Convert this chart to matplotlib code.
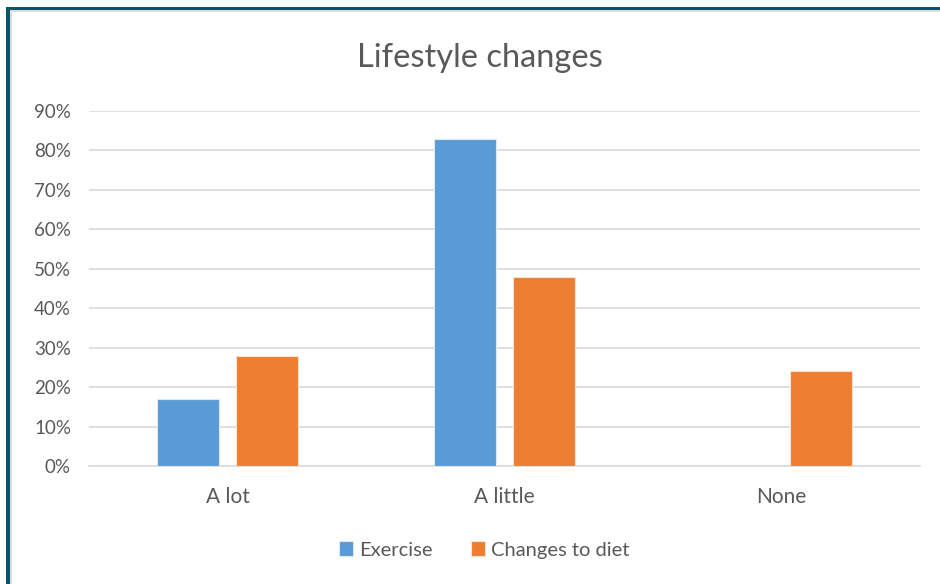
import matplotlib
matplotlib.use("Agg")
import matplotlib.pyplot as plt
from matplotlib.patches import Rectangle
from matplotlib.ticker import FuncFormatter, MultipleLocator
import numpy as np

categories = ["A lot", "A little", "None"]
exercise = [17, 83, 0]
diet = [28, 48, 24]
series_names = ["Exercise", "Changes to diet"]
colors = ["#5B9BD5", "#ED7D31"]
title = "Lifestyle changes"

plt.rcParams['font.family'] = ['Lato', 'DejaVu Sans']
W, H = 940, 584
fig = plt.figure(figsize=(W/100, H/100), dpi=100)

# frame: teal border left/top with light gray inner line
fig.patches.append(Rectangle((0, 0), 1, 1, transform=fig.transFigure, facecolor="white", edgecolor="none", zorder=-10))
fig.patches.append(Rectangle((6/W, 0), 4/W, 1 - 7/H, transform=fig.transFigure, facecolor="#0B5369", edgecolor="none", zorder=5))
fig.patches.append(Rectangle((6/W, 1 - 10/H), 1, 3/H, transform=fig.transFigure, facecolor="#0B5369", edgecolor="none", zorder=5))
fig.patches.append(Rectangle((10/W, 0), 2/W, 1 - 10/H, transform=fig.transFigure, facecolor="#DCDCDC", edgecolor="none", zorder=4))
fig.patches.append(Rectangle((10/W, 1 - 12/H), 1, 2/H, transform=fig.transFigure, facecolor="#DCDCDC", edgecolor="none", zorder=4))

left, right = 89, 920
top, bottom = 111, 466
ax = fig.add_axes([left/W, 1 - bottom/H, (right-left)/W, (bottom-top)/H])
x = np.arange(len(categories))
bw = 0.222
off = 0.142
b1 = ax.bar(x - off, exercise, bw, color=colors[0], edgecolor="#DCE9F5", linewidth=0.8, label=series_names[0], zorder=3)
b2 = ax.bar(x + off, diet, bw, color=colors[1], edgecolor="#FBE3D4", linewidth=0.8, label=series_names[1], zorder=3)

ax.set_xlim(-0.5, 2.5)
ax.set_ylim(0, 90)
ax.yaxis.set_major_locator(MultipleLocator(10))
ax.yaxis.set_major_formatter(FuncFormatter(lambda v, p: f"{int(round(v))}%"))
ax.grid(axis="y", color="#D9D9D9", linewidth=1.2, zorder=0)
ax.set_axisbelow(True)
for s in ["top", "right", "left"]:
    ax.spines[s].set_visible(False)
ax.spines["bottom"].set_color("#D9D9D9")
ax.spines["bottom"].set_linewidth(1.2)
ax.tick_params(axis="both", length=0, colors="#595959")
ax.tick_params(axis="y", pad=13, labelsize=13.5)
ax.tick_params(axis="x", pad=15, labelsize=15)
ax.set_xticks(x)
ax.set_xticklabels(categories)

fig.text(480/W, 1 - 58/H, title, ha="center", va="center", fontsize=23.5, color="#595959")

leg = fig.legend(handles=[b1, b2], labels=series_names, loc="center", bbox_to_anchor=(484/W, 1 - 550/H),
                 ncol=2, frameon=False, fontsize=14.5, handlelength=0.7, handleheight=0.7,
                 handletextpad=0.3, columnspacing=1.9, labelcolor="#595959")

fig.savefig("out.png", dpi=100)
